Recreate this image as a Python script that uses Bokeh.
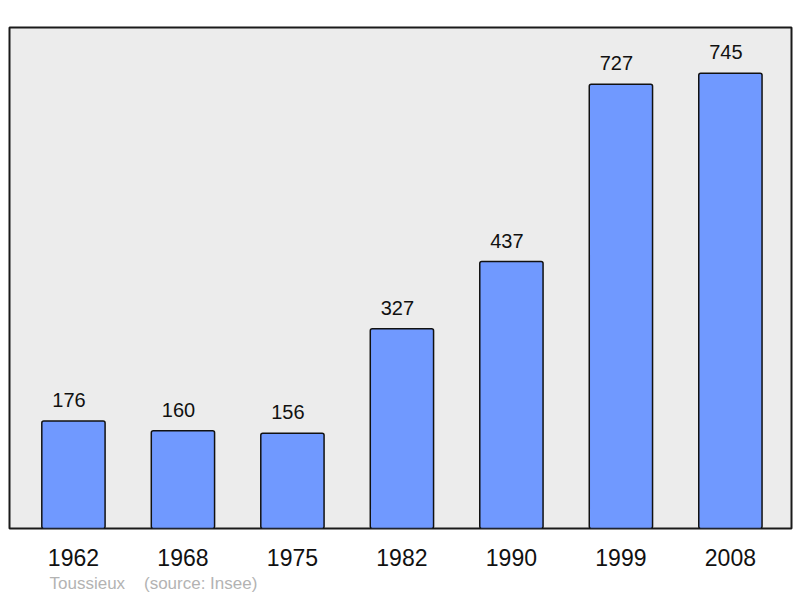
from bokeh.plotting import figure
from bokeh.models import Range1d, FixedTicker, Title, ColumnDataSource
from bokeh.core.properties import value
from bokeh.embed import file_html
from bokeh.resources import INLINE

years = ["1962", "1968", "1975", "1982", "1990", "1999", "2008"]
population = [176, 160, 156, 327, 437, 727, 745]
commune = "Toussieux"
source_note = "(source: Insee)"

pos = list(range(len(years)))
src = ColumnDataSource(dict(x=pos, top=population, lab=[str(v) for v in population]))

p = figure(width=798, height=596, output_backend="svg", toolbar_location=None,
           x_range=Range1d(-0.584, 6.558), y_range=Range1d(0, 820),
           min_border_left=9, min_border_right=7, min_border_top=27, min_border_bottom=68,
           border_fill_color="white")
p.background_fill_color = "#ececec"
p.outline_line_color = "#1a1a1a"
p.outline_line_width = 2
p.grid.visible = False
p.yaxis.visible = False

p.xaxis.ticker = FixedTicker(ticks=pos)
p.xaxis.major_label_overrides = {i: y for i, y in enumerate(years)}
p.xaxis.axis_line_color = None
p.xaxis.major_tick_line_color = None
p.xaxis.minor_tick_line_color = None
p.xaxis.major_label_text_font = "Liberation Sans"
p.xaxis.major_label_text_font_size = "23px"
p.xaxis.major_label_text_color = "#111111"
p.xaxis.major_label_standoff = 14

p.vbar(x="x", top="top", width=0.578, bottom=0, source=src,
       fill_color="#7099ff", line_color="#111111", line_width=1.5, border_radius=2)

p.text(x="x", y="top", text="lab", source=src, text_align="center",
       text_baseline="alphabetic", y_offset=-21, x_offset=-4.5,
       text_font=value("Liberation Sans"), text_font_size="20px", text_color="#111111")

note = Title(text=commune + "\u00a0\u00a0\u00a0 " + source_note, align="left", offset=40,
             text_font="Liberation Sans", text_font_size="17px", text_font_style="normal",
             text_color="#b3b3b3", standoff=7)
p.add_layout(note, "below")

open("out.html", "w").write(file_html(p, INLINE))
